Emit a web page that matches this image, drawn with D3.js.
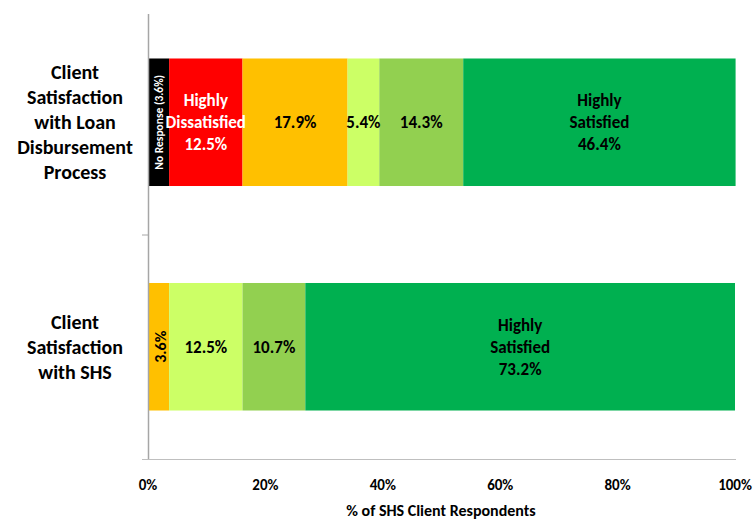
<!DOCTYPE html>
<html>
<head>
<meta charset="utf-8">
<script src="https://cdn.jsdelivr.net/npm/d3@7"></script>
<style>
  body { margin: 0; background: #fff; }
  svg { display: block; font-family: Carlito, Calibri, Lato, "Liberation Sans", sans-serif; font-weight: bold; }
</style>
</head>
<body>
<svg id="chart" width="754" height="519"></svg>
<script>
// Survey categories (top to bottom)
const categories = [
  "Client Satisfaction with Loan Disbursement Process",
  "Client Satisfaction with SHS"
];
const categoryLines = [
  ["Client", "Satisfaction", "with Loan", "Disbursement", "Process"],
  ["Client", "Satisfaction", "with SHS"]
];

// Response levels, in stacking order
const seriesNames = ["No Response", "Highly Dissatisfied", "Dissatisfied", "Neutral", "Satisfied", "Highly Satisfied"];
const seriesColors = ["#000000", "#FF0000", "#FFC000", "#CCFF66", "#92D050", "#00B050"];

// Percent of respondents per level, one value per category
const noResponse         = [3.6, 0];
const highlyDissatisfied = [12.5, 0];
const dissatisfied       = [17.9, 3.6];
const neutral            = [5.4, 12.5];
const satisfied          = [14.3, 10.7];
const highlySatisfied    = [46.4, 73.2];

const xTicks = [0, 20, 40, 60, 80, 100];
const xTitle = "% of SHS Client Respondents";

const seriesValues = [noResponse, highlyDissatisfied, dissatisfied, neutral, satisfied, highlySatisfied];
const rows = categories.map((c, i) => {
  const r = { category: c };
  seriesNames.forEach((s, k) => { r[s] = seriesValues[k][i]; });
  return r;
});

const svg = d3.select("#chart");
const x = d3.scaleLinear().domain([0, 100]).range([148, 735]);
const y = d3.scaleBand().domain(categories).range([10, 459]).paddingInner(0.432).paddingOuter(0.216);

const stacked = d3.stack().keys(seriesNames)(rows);

// Bars
const layers = svg.append("g").selectAll("g").data(stacked).join("g")
  .attr("fill", (d, i) => seriesColors[i]);
layers.selectAll("rect").data(d => d.map(v => ({ v, key: d.key })))
  .join("rect")
  .filter(d => d.v[1] - d.v[0] > 0)
  .attr("x", d => x(d.v[0]))
  .attr("width", d => x(d.v[1]) - x(d.v[0]))
  .attr("y", d => y(d.v.data.category))
  .attr("height", y.bandwidth());

// Axes
const axisColor = "#A6A6A6";
svg.append("line").attr("x1", 148.5).attr("x2", 148.5).attr("y1", 14).attr("y2", 459)
  .attr("stroke", axisColor).attr("stroke-width", 1.5);
svg.append("line").attr("x1", 142).attr("x2", 736).attr("y1", 459.5).attr("y2", 459.5)
  .attr("stroke", "#BFBFBF").attr("stroke-width", 1);
// category separator tick
const step = y.step();
svg.append("line").attr("x1", 142).attr("x2", 148).attr("y1", y(categories[1]) - step * 0.216 + 0.5)
  .attr("y2", y(categories[1]) - step * 0.216 + 0.5).attr("stroke", axisColor).attr("stroke-width", 1);

// X tick labels
svg.append("g").selectAll("text").data(xTicks).join("text")
  .attr("x", d => x(d)).attr("y", 490)
  .attr("text-anchor", "middle").attr("font-size", 15).attr("fill", "#000")
  .text(d => d + "%");

svg.append("text").attr("x", 441).attr("y", 516).attr("text-anchor", "middle")
  .attr("font-size", 16).text(xTitle);

// Category labels
categoryLines.forEach((lines, i) => {
  const cy = y(categories[i]) + y.bandwidth() / 2;
  const lh = 25;
  const t = svg.append("text").attr("text-anchor", "middle").attr("font-size", 20).attr("fill", "#000");
  lines.forEach((ln, j) => {
    t.append("tspan").attr("x", 75)
      .attr("y", cy + (j - (lines.length - 1) / 2) * lh + 7).text(ln);
  });
});

// Segment labels
const fmt = v => v.toFixed(1) + "%";
function segLabel(ci, key, lines, color, rotate, shift) {
  const k = seriesNames.indexOf(key);
  const v = stacked[k][ci];
  const cx = (x(v[0]) + x(v[1])) / 2;
  const cy = y(categories[ci]) + y.bandwidth() / 2;
  if (rotate) {
    svg.append("text").attr("transform", `translate(${cx + shift},${cy}) rotate(-90)`)
      .attr("text-anchor", "middle").attr("font-size", rotate).attr("fill", color).text(lines[0]);
    return;
  }
  const lh = 22;
  const t = svg.append("text").attr("text-anchor", "middle").attr("font-size", 17).attr("fill", color);
  lines.forEach((ln, j) => {
    t.append("tspan").attr("x", cx).attr("y", cy + (j - (lines.length - 1) / 2) * lh + 6).text(ln);
  });
}

segLabel(0, "No Response", ["No Response (" + fmt(noResponse[0]) + ")"], "#fff", 11.5, 4);
segLabel(0, "Highly Dissatisfied", ["Highly", "Dissatisfied", fmt(highlyDissatisfied[0])], "#fff");
segLabel(0, "Dissatisfied", [fmt(dissatisfied[0])], "#000");
segLabel(0, "Neutral", [fmt(neutral[0])], "#000");
segLabel(0, "Satisfied", [fmt(satisfied[0])], "#000");
segLabel(0, "Highly Satisfied", ["Highly", "Satisfied", fmt(highlySatisfied[0])], "#000");

segLabel(1, "Dissatisfied", [fmt(dissatisfied[1])], "#000", 16, 7);
segLabel(1, "Neutral", [fmt(neutral[1])], "#000");
segLabel(1, "Satisfied", [fmt(satisfied[1])], "#000");
segLabel(1, "Highly Satisfied", ["Highly", "Satisfied", fmt(highlySatisfied[1])], "#000");
</script>
</body>
</html>
